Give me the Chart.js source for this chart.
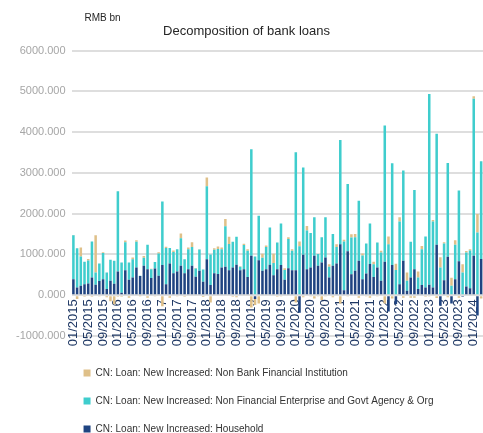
<!DOCTYPE html>
<html>
<head>
<meta charset="utf-8">
<title>Decomposition of bank loans</title>
<script src="https://cdn.jsdelivr.net/npm/chart.js@4.4.1/dist/chart.umd.min.js"></script>
<style>
  html, body { margin: 0; padding: 0; background: #ffffff; }
  #wrap { width: 483px; height: 433px; position: relative; }
</style>
</head>
<body>
<div id="wrap"><canvas id="chart"></canvas></div>
<script>
// Monthly new RMB loans by borrower, RMB bn, 01/2015 - 03/2024
const firstYear = 2015;
const monthCount = 111;

const household = [
  390, 190, 230, 270, 290, 435, 254, 350, 394, 150, 353, 280,
  582, 60, 615, 380, 435, 680, 470, 720, 640, 420, 656, 475,
  740, 270, 780, 540, 580, 720, 540, 640, 720, 455, 600, 330,
  880, 250, 540, 520, 680, 700, 615, 680, 746, 610, 640, 450,
  970, -90, 860, 600, 640, 746, 490, 640, 740, 377, 664, 615,
  615, -430, 990, 640, 680, 968, 720, 800, 927, 435, 720, 780,
  1250, 120, 1080, 516, 600, 845, 394, 533, 763, 450, 680, 353,
  820, -400, 740, -217, 270, 845, 107, 435, 640, 150, 250, 190,
  254, 190, 1240, -256, 368, 943, -200, 390, 836, -35, 215, 170,
  968, -500, 886
];

const enterprise = [
  1080, 960, 720, 550, 560, 885, 304, 430, 640, 410, 520, 565,
  1970, 740, 685, 420, 450, 630, 10, 200, 600, 220, 160, 550,
  1560, 890, 376, 520, 550, 680, 345, 490, 460, 200, 520, 300,
  1795, 750, 575, 614, 450, 990, 640, 630, 690, 90, 590, 640,
  2610, 950, 1090, 320, 540, 914, 300, 655, 1020, 243, 716, 475,
  2890, 1200, 2140, 950, 845, 942, 290, 620, 983, 265, 780, 400,
  2560, 1200, 1650, 900, 820, 1475, 580, 737, 997, 310, 615, 697,
  3340, 1250, 2500, 620, 1540, 2215, 250, 875, 1940, 285, 880, 1250,
  4680, 1620, 2720, 683, 900, 2300, 230, 850, 1734, 560, 830, 930,
  3850, 1540, 2400
];

const nonBankFinancial = [
  10, -90, 220, -40, 40, -40, 916, -30, 20, -50, -150, -220,
  -40, -40, 40, -60, 40, 40, -10, 40, -60, 10, -20, 30,
  -270, 30, -60, 40, -30, 117, -40, 40, 120, 10, 10, -45,
  215, -180, 35, 60, 40, 180, 180, -40, -50, 10, 30, 40,
  -300, -150, -200, 100, 40, 0, 230, -40, -20, 40, 40, 40,
  -180, 120, -50, 110, -30, -80, -20, -120, -20, 60, -50, 70,
  -200, 40, -30, 80, 80, -60, 50, -30, -60, 60, -20, 40,
  -200, 190, -80, 150, 100, -60, 200, -60, -60, 145, 80, -40,
  -30, 35, -70, 250, 30, -50, 200, 110, -60, 200, 40, 30,
  60, 450, -80
];

// Category labels MM/YYYY
const monthLabels = [];
for (let i = 0; i < monthCount; i++) {
  const y = firstYear + Math.floor(i / 12);
  const m = (i % 12) + 1;
  monthLabels.push((m < 10 ? '0' : '') + m + '/' + y);
}

const yTickValues = [-1000, 0, 1000, 2000, 3000, 4000, 5000, 6000];
const unitText = 'RMB bn';
const titleText = 'Decomposition of bank loans';

const NAVY = '#1f4481';
const TURQUOISE = '#3fcdcd';
const TAN = '#dfc089';
const FONT = '"Liberation Sans", Arial, Helvetica, sans-serif';

Chart.defaults.font.family = FONT;

// Small unit caption above the value axis; legend nudged toward the axis
const unitCaption = {
  id: 'unitCaption',
  afterLayout(chart) {
    if (chart.legend) {
      chart.legend.left -= 6;
      chart.legend.right -= 6;
    }
  },
  afterDraw(chart) {
    const ctx = chart.ctx;
    ctx.save();
    ctx.font = '10px ' + FONT;
    ctx.fillStyle = '#262626';
    ctx.textBaseline = 'middle';
    ctx.textAlign = 'left';
    ctx.fillText(unitText, chart.chartArea.left + 13, 18);
    ctx.restore();
  }
};

new Chart(document.getElementById('chart'), {
  type: 'bar',
  data: {
    labels: monthLabels,
    datasets: [
      { label: 'CN: Loan: New Increased: Household', data: household,
        backgroundColor: NAVY, borderWidth: 0 },
      { label: 'CN: Loan: New Increased: Non Financial Enterprise and Govt Agency & Org', data: enterprise,
        backgroundColor: TURQUOISE, borderWidth: 0 },
      { label: 'CN: Loan: New Increased: Non Bank Financial Institution', data: nonBankFinancial,
        backgroundColor: TAN, borderWidth: 0 }
    ]
  },
  options: {
    responsive: true,
    maintainAspectRatio: false,
    animation: false,
    events: [],
    layout: { padding: { left: 10, right: 0, top: 0, bottom: -11 } },
    datasets: { bar: { categoryPercentage: 1, barPercentage: 0.68 } },
    plugins: {
      title: {
        display: true,
        text: titleText,
        color: '#262626',
        font: { size: 13, weight: 'normal' },
        padding: { top: 24, bottom: 11 }
      },
      legend: {
        position: 'bottom',
        align: 'start',
        fullSize: false,
        reverse: true,
        title: { display: true, text: ' ', font: { size: 10 }, padding: 1 },
        labels: {
          boxWidth: 7,
          boxHeight: 7,
          padding: 18,
          color: '#333333',
          font: { size: 10 }
        }
      },
      tooltip: { enabled: false }
    },
    scales: {
      x: {
        stacked: true,
        position: { y: 0 },
        grid: { display: false, drawTicks: false },
        border: { display: false },
        ticks: {
          autoSkip: false,
          minRotation: 90,
          maxRotation: 90,
          padding: 4,
          color: '#1f3864',
          font: { size: 13 },
          callback: (value, index) => (index % 4 === 0 ? monthLabels[index] : null)
        },
        afterFit(scale) { scale.paddingLeft = 0; scale.paddingRight = 0; }
      },
      y: {
        stacked: true,
        min: yTickValues[0],
        max: yTickValues[yTickValues.length - 1],
        afterBuildTicks(scale) { scale.ticks = yTickValues.map(v => ({ value: v })); },
        grid: { color: '#dedede', lineWidth: 2, drawTicks: false },
        border: { display: false },
        ticks: {
          padding: 6,
          color: '#a6a6a6',
          font: { size: 11 },
          callback: v => Number(v).toFixed(3)
        }
      }
    }
  },
  plugins: [unitCaption]
});
</script>
</body>
</html>
